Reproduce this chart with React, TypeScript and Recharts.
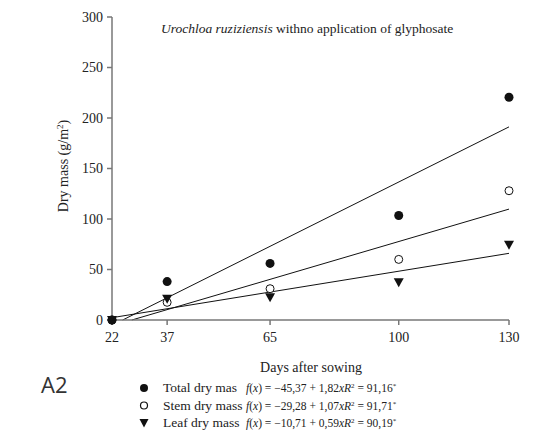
import {
  ComposedChart,
  Scatter,
  Line,
  XAxis,
  YAxis,
} from "recharts";

const days = [22, 37, 65, 100, 130];
const totalMass = [0, 38, 56, 103.5, 220.5];
const stemMass = [0, 17.5, 31, 60, 128];
const leafMass = [0, 21, 22.5, 37.5, 74.5];

// fitted lines, read at their visible ends
const totalFit = [
  { day: 24.9, v: 0 },
  { day: 130, v: 191.2 },
];
const stemFit = [
  { day: 27.4, v: 0 },
  { day: 130, v: 109.8 },
];
const leafFit = [
  { day: 22, v: 2.3 },
  { day: 130, v: 66 },
];

const yTicks = [0, 50, 100, 150, 200, 250, 300];

const legendRows = [
  { name: "Total dry mas", a: "45,37", b: "1,82", r2: "91,16" },
  { name: "Stem dry mass", a: "29,28", b: "1,07", r2: "91,71" },
  { name: "Leaf dry mass", a: "10,71", b: "0,59", r2: "90,19" },
];

const toPoints = (vals: number[]) => days.map((d, i) => ({ day: d, v: vals[i] }));

const face = '"Liberation Serif", "Times New Roman", serif';
const ink = "#111";

const FilledDot = (p: any) => <circle cx={p.cx} cy={p.cy} r={4.5} fill={ink} />;
const OpenDot = (p: any) => (
  <circle cx={p.cx} cy={p.cy} r={4} fill="#fff" stroke={ink} strokeWidth={1} />
);
const DownTri = (p: any) => (
  <polygon
    points={`${p.cx - 5},${p.cy - 4} ${p.cx + 5},${p.cy - 4} ${p.cx},${p.cy + 5}`}
    fill={ink}
  />
);

function LegendMarker({ i, x, y }: { i: number; x: number; y: number }) {
  if (i === 0) return <circle cx={x} cy={y} r={4} fill={ink} />;
  if (i === 1) return <circle cx={x} cy={y} r={3.5} fill="none" stroke={ink} strokeWidth={1.2} />;
  return <polygon points={`${x - 4.5},${y - 4} ${x + 4.5},${y - 4} ${x},${y + 4.5}`} fill={ink} />;
}

export default function App() {
  const tickStyle = { fontFamily: face, fontSize: 14, fill: "#222" };
  const txt = { fontFamily: face, fill: "#222" };
  return (
    <div
      style={{
        position: "absolute",
        left: 0,
        top: 0,
        width: 554,
        height: 438,
        background: "#fff",
        fontFamily: face,
      }}
    >
      <ComposedChart
        width={554}
        height={438}
        margin={{ top: 17, right: 45, bottom: 88, left: 0 }}
        style={{ fontFamily: face }}
      >
        <XAxis
          dataKey="day"
          type="number"
          domain={[22, 130]}
          ticks={days}
          height={30}
          stroke="#777"
          strokeWidth={1.5}
          tickSize={5}
          tick={tickStyle}
          tickMargin={7}
        />
        <YAxis
          dataKey="v"
          type="number"
          domain={[0, 300]}
          ticks={yTicks}
          width={112}
          stroke="#777"
          strokeWidth={1.5}
          tickSize={5}
          tick={tickStyle}
          tickMargin={4}
        />
        <Line data={totalFit} dataKey="v" stroke={ink} strokeWidth={1} dot={false} isAnimationActive={false} />
        <Line data={stemFit} dataKey="v" stroke={ink} strokeWidth={1} dot={false} isAnimationActive={false} />
        <Line data={leafFit} dataKey="v" stroke={ink} strokeWidth={1} dot={false} isAnimationActive={false} />
        <Scatter data={toPoints(stemMass)} dataKey="v" shape={OpenDot} isAnimationActive={false} />
        <Scatter data={toPoints(leafMass)} dataKey="v" shape={DownTri} isAnimationActive={false} />
        <Scatter data={toPoints(totalMass)} dataKey="v" shape={FilledDot} isAnimationActive={false} />
      </ComposedChart>
      <svg
        width={554}
        height={438}
        style={{ position: "absolute", left: 0, top: 0, pointerEvents: "none" }}
      >
        <text x={161} y={33} style={{ ...txt, fontSize: 13.5 }}>
          <tspan fontStyle="italic">Urochloa ruziziensis</tspan>
          <tspan> withno application of glyphosate</tspan>
        </text>
        <text
          x={0}
          y={0}
          transform="translate(68,166) rotate(-90)"
          textAnchor="middle"
          style={{ ...txt, fontSize: 14 }}
        >
          Dry mass (g/m<tspan dy={-5} fontSize={9}>2</tspan>
          <tspan dy={5}>)</tspan>
        </text>
        <text x={311} y={372} textAnchor="middle" style={{ ...txt, fontSize: 14 }}>
          Days after sowing
        </text>
        <text x={41} y={393} style={{ fontFamily: '"Open Sans", sans-serif', fontSize: 22, fill: "#333" }}>
          A2
        </text>
        {legendRows.map((r, i) => {
          const y = 392 + i * 17.5;
          return (
            <g key={r.name}>
              <LegendMarker i={i} x={144} y={y - 4} />
              <text x={163} y={y} style={{ ...txt, fontSize: 13.5 }}>
                {r.name}
              </text>
              <text x={246} y={y} style={{ ...txt, fontSize: 11.5 }}>
                <tspan fontStyle="italic">f</tspan>
                <tspan>(</tspan>
                <tspan fontStyle="italic">x</tspan>
                <tspan>) = −{r.a} + {r.b}</tspan>
                <tspan fontStyle="italic">xR</tspan>
                <tspan dy={-4} fontSize={7}>2</tspan>
                <tspan dy={4}> = {r.r2}</tspan>
                <tspan dy={-4} fontSize={7}>*</tspan>
              </text>
            </g>
          );
        })}
      </svg>
    </div>
  );
}
